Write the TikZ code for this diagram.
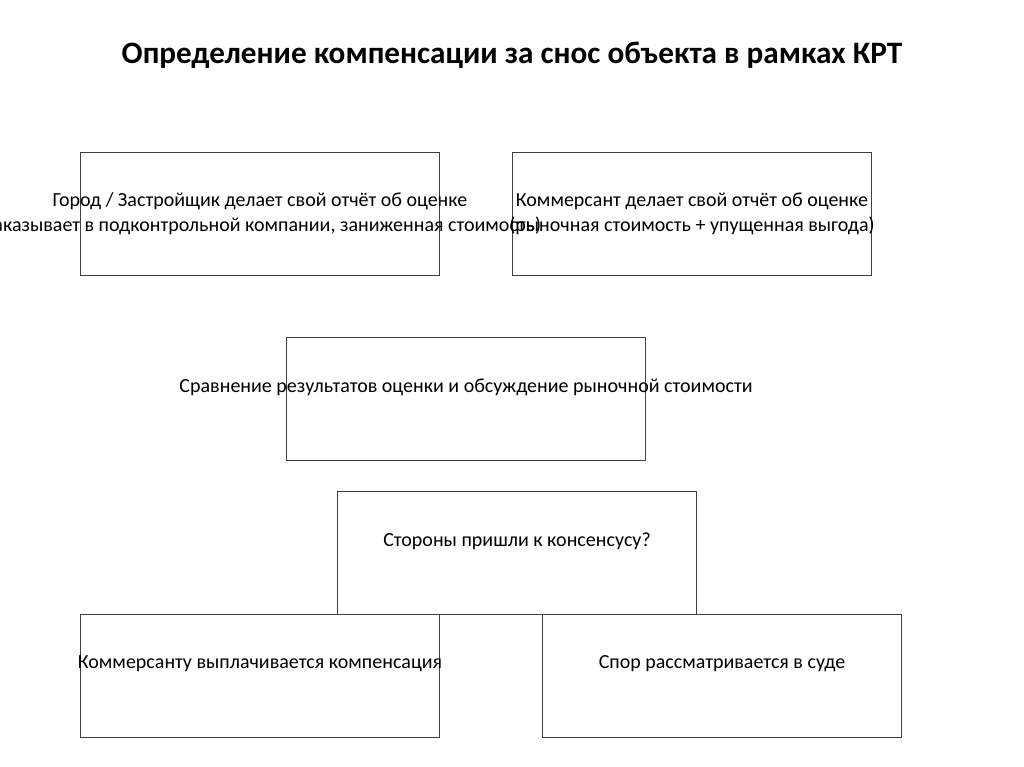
\documentclass[tikz,border=0pt]{standalone}
\usepackage{fontspec}
\setmainfont{Carlito}
\begin{document}
\begin{tikzpicture}[x=1pt,y=-1pt,
  box/.style={draw=black!75,line width=1pt,minimum width=359pt,minimum height=123pt,inner sep=0pt,anchor=north west},
  txt/.style={font=\fontsize{20}{25}\selectfont,align=center,inner sep=0pt,text=black},
  ttl/.style={font=\fontsize{31.2}{36}\selectfont\bfseries,inner sep=0pt,text=black}]
\useasboundingbox[fill=white] (0,0) rectangle (1024,767);
\node[ttl] (title) at (512,55) {Определение компенсации за снос объекта в рамках КРТ};
\node[box] (b1) at (80,152) {};
\node[box] (b2) at (512,152) {};
\node[box] (b3) at (286,337) {};
\node[box] (b4) at (337,491) {};
\node[box] (b5) at (80,614) {};
\node[box] (b6) at (542,614) {};
\node[txt] (t1) at (b1.center) {Город / Застройщик делает свой отчёт об оценке\\(заказывает в подконтрольной компании, заниженная стоимость)};
\node[txt] (t2) at (b2.center) {Коммерсант делает свой отчёт об оценке\\(рыночная стоимость + упущенная выгода)};
\node[txt] (t3) at ([yshift=12pt]b3.center) {Сравнение результатов оценки и обсуждение рыночной стоимости};
\node[txt] (t4) at ([yshift=12pt]b4.center) {Стороны пришли к консенсусу?};
\node[txt] (t5) at ([yshift=12pt]b5.center) {Коммерсанту выплачивается компенсация};
\node[txt] (t6) at ([yshift=12pt]b6.center) {Спор рассматривается в суде};
\end{tikzpicture}
\end{document}
